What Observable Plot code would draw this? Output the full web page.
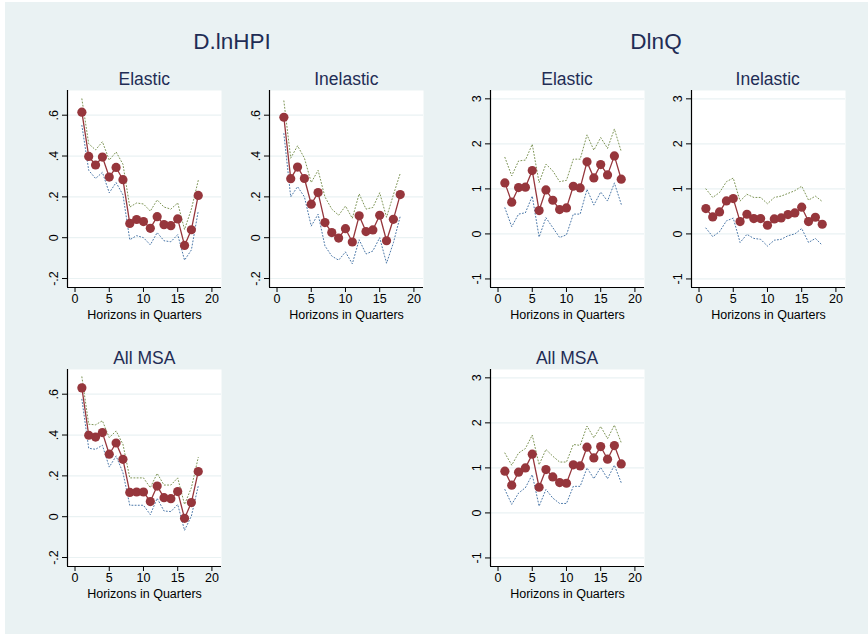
<!DOCTYPE html>
<html>
<head>
<meta charset="utf-8">
<script src="https://cdn.jsdelivr.net/npm/d3@7"></script>
<script src="https://cdn.jsdelivr.net/npm/@observablehq/plot@0.6"></script>
<style>
  html, body { margin: 0; padding: 0; background: #ffffff; }
  #chart { position: relative; width: 868px; height: 634px; overflow: hidden; font-family: "Liberation Sans", Arial, sans-serif; }
  #bg { position: absolute; left: 5px; top: 2px; width: 863px; height: 632px; background: #EAF2F3; }
  .hdr { position: absolute; font-size: 22.5px; color: #1F2D55; transform: translate(-50%, -50%); white-space: nowrap; }
  .ttl { position: absolute; font-size: 17.5px; color: #1F2D55; transform: translate(-50%, -50%); white-space: nowrap; }
  .panel { position: absolute; }
</style>
</head>
<body>
<div id="chart"><div id="bg"></div></div>
<script>
// Horizons
const horizons = [1,2,3,4,5,6,7,8,9,10,11,12,13,14,15,16,17,18];

// D.lnHPI - Elastic
const hpiElasticMean  = [0.615,0.398,0.356,0.395,0.297,0.344,0.284,0.070,0.089,0.079,0.046,0.103,0.064,0.059,0.092,-0.038,0.039,0.207];
const hpiElasticUpper = [0.68,0.46,0.43,0.47,0.38,0.42,0.36,0.15,0.17,0.165,0.13,0.185,0.15,0.14,0.17,0.04,0.14,0.28];
const hpiElasticLower = [0.55,0.33,0.29,0.32,0.22,0.27,0.21,-0.01,0.01,0.0,-0.035,0.025,-0.015,-0.02,0.015,-0.11,-0.06,0.13];

// D.lnHPI - Inelastic
const hpiInelasticMean  = [0.590,0.289,0.346,0.290,0.164,0.221,0.074,0.025,-0.002,0.044,-0.021,0.107,0.030,0.038,0.110,-0.015,0.090,0.211];
const hpiInelasticUpper = [0.67,0.39,0.45,0.39,0.27,0.33,0.20,0.14,0.11,0.155,0.095,0.215,0.14,0.148,0.22,0.10,0.21,0.315];
const hpiInelasticLower = [0.51,0.20,0.25,0.20,0.057,0.115,-0.04,-0.09,-0.11,-0.07,-0.128,-0.01,-0.08,-0.065,0.0,-0.125,-0.025,0.105];

// D.lnHPI - All MSA
const hpiAllMean  = [0.631,0.399,0.390,0.412,0.306,0.361,0.281,0.119,0.121,0.121,0.074,0.150,0.093,0.088,0.123,-0.008,0.069,0.221];
const hpiAllUpper = [0.685,0.453,0.45,0.47,0.387,0.42,0.355,0.19,0.19,0.19,0.142,0.212,0.155,0.155,0.19,0.06,0.142,0.29];
const hpiAllLower = [0.575,0.335,0.33,0.35,0.243,0.297,0.216,0.056,0.056,0.056,0.01,0.09,0.028,0.025,0.06,-0.067,0.003,0.15];

// DlnQ - Elastic
const qElasticMean  = [1.133,0.704,1.030,1.037,1.407,0.519,0.978,0.748,0.541,0.578,1.059,1.022,1.600,1.244,1.540,1.311,1.733,1.215];
const qElasticUpper = [1.70,1.29,1.62,1.64,1.99,1.14,1.55,1.40,1.16,1.19,1.66,1.66,2.20,1.86,2.14,1.90,2.33,1.83];
const qElasticLower = [0.58,0.16,0.44,0.47,0.84,-0.07,0.36,0.14,-0.08,-0.02,0.44,0.44,0.99,0.64,0.93,0.73,1.13,0.66];

// DlnQ - Inelastic
const qInelasticMean  = [0.563,0.378,0.489,0.733,0.785,0.274,0.437,0.341,0.341,0.193,0.333,0.356,0.430,0.467,0.593,0.274,0.370,0.215];
const qInelasticUpper = [1.00,0.81,0.92,1.16,1.24,0.73,0.88,0.81,0.81,0.67,0.81,0.84,0.90,0.96,1.06,0.75,0.84,0.72];
const qInelasticLower = [0.13,-0.06,0.05,0.29,0.35,-0.19,-0.01,-0.10,-0.12,-0.27,-0.14,-0.12,-0.04,0.0,0.12,-0.19,-0.10,-0.25];

// DlnQ - All MSA
const qAllMean  = [0.926,0.615,0.904,1.000,1.304,0.570,0.963,0.800,0.674,0.659,1.067,1.044,1.459,1.222,1.474,1.193,1.496,1.089];
const qAllUpper = [1.33,1.06,1.33,1.43,1.73,1.07,1.41,1.26,1.13,1.13,1.52,1.50,1.93,1.67,1.92,1.65,1.95,1.56];
const qAllLower = [0.52,0.19,0.44,0.56,0.85,0.15,0.52,0.33,0.21,0.21,0.59,0.59,1.00,0.76,1.01,0.76,1.06,0.67];

// Ticks and labels
const xTicks = [0, 5, 10, 15, 20];
const yTicksHPI = [-0.2, 0, 0.2, 0.4, 0.6];
const yTicksQ = [-1, 0, 1, 2, 3];
const xLabel = "Horizons in Quarters";
const headers = ["D.lnHPI", "DlnQ"];
const panelTitles = ["Elastic", "Inelastic", "All MSA"];

// Layout
const xDomain = [-1.1, 21.4];
const yDomainHPI = [-0.244, 0.721];
const yDomainQ = [-1.19, 3.185];
const plotW = 154, plotH = 197;
const mL = 30, mR = 2, mT = 2, mB = 38;

const colMean = "#96363C", colUpper = "#7D9455", colLower = "#4A77A8";
const fontFam = '"Liberation Sans", Arial, sans-serif';

function fmtHPI(d) { return d === 0 ? "0" : String(d).replace("0.", "."); }

function panel(mean, upper, lower, yDomain, yTicks, yFmt) {
  const rows = horizons.map((h, i) => ({h, m: mean[i], u: upper[i], l: lower[i]}));
  return Plot.plot({
    width: plotW + mL + mR,
    height: plotH + mT + mB,
    marginLeft: mL, marginRight: mR, marginTop: mT, marginBottom: mB,
    style: {background: "transparent", fontFamily: fontFam, fontSize: "12px", color: "#000"},
    x: {domain: xDomain},
    y: {domain: yDomain},
    marks: [
      Plot.frame({fill: "white", stroke: null}),
      Plot.gridY(yTicks, {stroke: "#EAF2F3", strokeOpacity: 1, strokeWidth: 1.2}),
      Plot.axisX(xTicks, {tickSize: 5, tickPadding: 2, fontSize: 12.5, label: xLabel, labelAnchor: "center", labelArrow: "none", labelOffset: 31, stroke: "#000"}),
      Plot.axisY(yTicks, {tickSize: 5, tickPadding: 5, tickRotate: -90, fontSize: 12.5, tickFormat: yFmt, label: null, stroke: "#000"}),
      Plot.ruleX([xDomain[0]], {stroke: "#000", strokeWidth: 1.2}),
      Plot.ruleY([yDomain[0]], {stroke: "#000", strokeWidth: 1.2}),
      Plot.line(rows, {x: "h", y: "u", stroke: colUpper, strokeWidth: 1, strokeDasharray: "1,2.2"}),
      Plot.line(rows, {x: "h", y: "l", stroke: colLower, strokeWidth: 1, strokeDasharray: "1,2.2"}),
      Plot.line(rows, {x: "h", y: "m", stroke: colMean, strokeWidth: 1.3}),
      Plot.dot(rows, {x: "h", y: "m", r: 4.6, fill: colMean, stroke: null})
    ]
  });
}

const chart = document.getElementById("chart");
function place(el, left, top) {
  el.classList.add("panel");
  el.style.left = left + "px";
  el.style.top = top + "px";
  chart.appendChild(el);
}
function label(cls, text, cx, cy) {
  const d = document.createElement("div");
  d.className = cls;
  d.textContent = text;
  d.style.left = cx + "px";
  d.style.top = cy + "px";
  chart.appendChild(d);
}

const specs = [
  {axisX: 67.3, top: 90,  mean: hpiElasticMean, upper: hpiElasticUpper, lower: hpiElasticLower, hpi: true, title: panelTitles[0], ty: 79},
  {axisX: 269.3, top: 90, mean: hpiInelasticMean, upper: hpiInelasticUpper, lower: hpiInelasticLower, hpi: true, title: panelTitles[1], ty: 79},
  {axisX: 490, top: 90,   mean: qElasticMean, upper: qElasticUpper, lower: qElasticLower, hpi: false, title: panelTitles[0], ty: 79},
  {axisX: 690.7, top: 90, mean: qInelasticMean, upper: qInelasticUpper, lower: qInelasticLower, hpi: false, title: panelTitles[1], ty: 79},
  {axisX: 67.3, top: 368.8, mean: hpiAllMean, upper: hpiAllUpper, lower: hpiAllLower, hpi: true, title: panelTitles[2], ty: 358},
  {axisX: 490, top: 368.8,  mean: qAllMean, upper: qAllUpper, lower: qAllLower, hpi: false, title: panelTitles[2], ty: 358}
];

label("hdr", headers[0], 232, 42);
label("hdr", headers[1], 656, 42);

for (const s of specs) {
  const svg = s.hpi
    ? panel(s.mean, s.upper, s.lower, yDomainHPI, yTicksHPI, fmtHPI)
    : panel(s.mean, s.upper, s.lower, yDomainQ, yTicksQ, d => String(d));
  place(svg, s.axisX - mL, s.top - mT);
  label("ttl", s.title, s.axisX + plotW / 2, s.ty);
}
</script>
</body>
</html>
